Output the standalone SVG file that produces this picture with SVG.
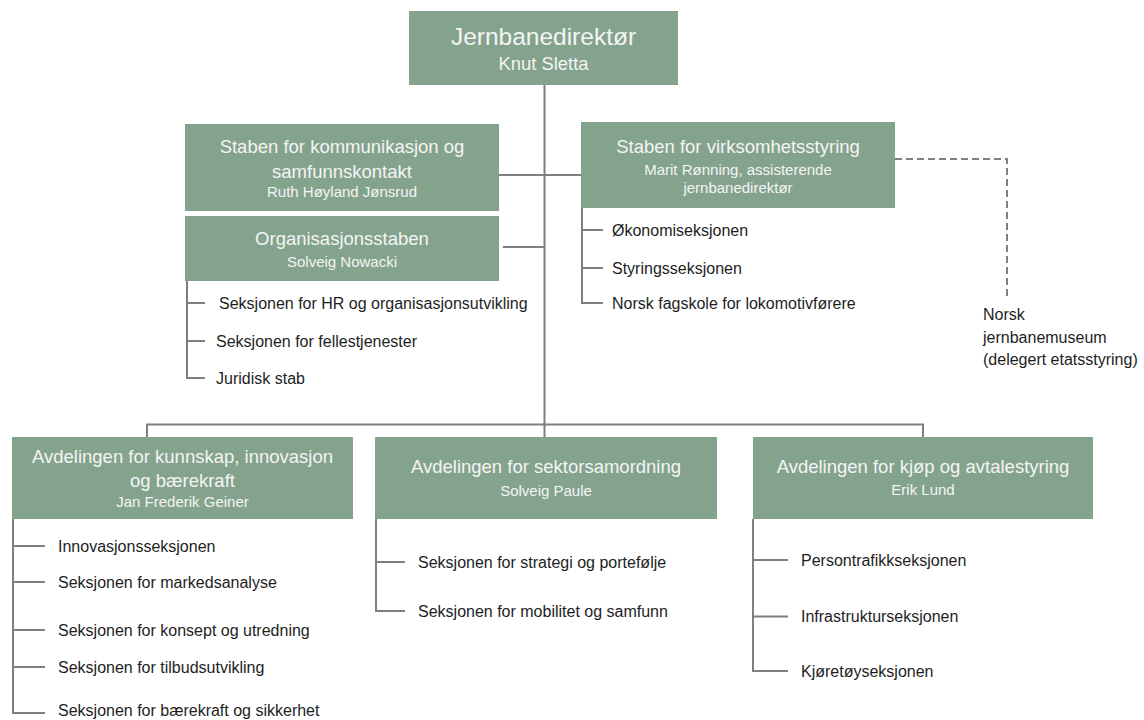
<svg xmlns="http://www.w3.org/2000/svg" width="1144" height="720" viewBox="0 0 1144 720">
<style>
.box{fill:#84a38d;}
.h{font-family:"Liberation Sans",Arial,sans-serif;font-size:18.5px;fill:#f4f4f4;text-anchor:middle;}
.n{font-family:"Liberation Sans",Arial,sans-serif;font-size:15px;fill:#f4f4f4;text-anchor:middle;}
.t{font-family:"Liberation Sans",Arial,sans-serif;font-size:16px;fill:#1e1e1e;}
.ln{stroke:#7f7f7f;stroke-width:2;fill:none;}
.dash{stroke:#7f7f7f;stroke-width:2;fill:none;stroke-dasharray:7 4;}
</style>
<rect width="1144" height="720" fill="#ffffff"/>
<g id="connectors">
<path class="ln" d="M544.5 85 V437"/>
<path class="ln" d="M499 175 H581"/>
<path class="ln" d="M503 247 H544.5"/>
<path class="ln" d="M147 437 V424.5 H923 V437"/>
<path class="dash" d="M895 159 H1007 V300"/>
<path class="ln" d="M187 281 V378 H205 M187 303 H205 M187 341 H205"/>
<path class="ln" d="M582 208 V303 H603 M582 230 H603 M582 268 H603"/>
<path class="ln" d="M13 519 V713 H45 M13 546 H45 M13 582 H45 M13 630 H45 M13 667 H45"/>
<path class="ln" d="M376 519 V611 H405 M376 562 H405"/>
<path class="ln" d="M753 519 V671 H788 M753 560 H788 M753 616.5 H788"/>
</g>
<g id="n-direktor">
<rect class="box" x="409" y="11" width="269" height="74"/>
<text class="h" x="543.5" y="44.5" style="font-size:24.5px">Jernbanedirektør</text>
<text class="n" x="543.5" y="70" style="font-size:18.4px">Knut Sletta</text>
</g>
<g id="n-kommunikasjon">
<rect class="box" x="185" y="124" width="314" height="87"/>
<text class="h" x="342" y="153">Staben for kommunikasjon og</text>
<text class="h" x="342" y="178">samfunnskontakt</text>
<text class="n" x="342" y="197">Ruth Høyland Jønsrud</text>
</g>
<g id="n-organisasjon">
<rect class="box" x="185" y="216" width="314" height="65"/>
<text class="h" x="342" y="245">Organisasjonsstaben</text>
<text class="n" x="342" y="266.5">Solveig Nowacki</text>
<text class="t" x="219" y="308.5">Seksjonen for HR og organisasjonsutvikling</text>
<text class="t" x="216" y="346.5">Seksjonen for fellestjenester</text>
<text class="t" x="216" y="383.5">Juridisk stab</text>
</g>
<g id="n-virksomhet">
<rect class="box" x="581" y="122" width="314" height="86"/>
<text class="h" x="738" y="153">Staben for virksomhetsstyring</text>
<text class="n" x="738" y="175">Marit Rønning, assisterende</text>
<text class="n" x="738" y="193">jernbanedirektør</text>
<text class="t" x="612" y="235.5">Økonomiseksjonen</text>
<text class="t" x="612" y="273.5">Styringsseksjonen</text>
<text class="t" x="612" y="308.5">Norsk fagskole for lokomotivførere</text>
</g>
<g id="n-museum">
<text class="t" x="983" y="320">Norsk</text>
<text class="t" x="983" y="342.5">jernbanemuseum</text>
<text class="t" x="983" y="365">(delegert etatsstyring)</text>
</g>
<g id="n-kunnskap">
<rect class="box" x="12" y="437" width="341" height="82"/>
<text class="h" x="182.5" y="463">Avdelingen for kunnskap, innovasjon</text>
<text class="h" x="182.5" y="487">og bærekraft</text>
<text class="n" x="182.5" y="507">Jan Frederik Geiner</text>
<text class="t" x="58" y="551.5">Innovasjonsseksjonen</text>
<text class="t" x="58" y="587.5">Seksjonen for markedsanalyse</text>
<text class="t" x="58" y="635.5">Seksjonen for konsept og utredning</text>
<text class="t" x="58" y="672.5">Seksjonen for tilbudsutvikling</text>
<text class="t" x="58" y="716">Seksjonen for bærekraft og sikkerhet</text>
</g>
<g id="n-sektor">
<rect class="box" x="375" y="437" width="342" height="82"/>
<text class="h" x="546" y="473">Avdelingen for sektorsamordning</text>
<text class="n" x="546" y="496">Solveig Paule</text>
<text class="t" x="418" y="567.5">Seksjonen for strategi og portefølje</text>
<text class="t" x="418" y="616.5">Seksjonen for mobilitet og samfunn</text>
</g>
<g id="n-kjop">
<rect class="box" x="753" y="437" width="340" height="82"/>
<text class="h" x="923" y="473">Avdelingen for kjøp og avtalestyring</text>
<text class="n" x="923" y="495">Erik Lund</text>
<text class="t" x="801" y="565.5">Persontrafikkseksjonen</text>
<text class="t" x="801" y="622">Infrastrukturseksjonen</text>
<text class="t" x="801" y="676.5">Kjøretøyseksjonen</text>
</g>
</svg>
